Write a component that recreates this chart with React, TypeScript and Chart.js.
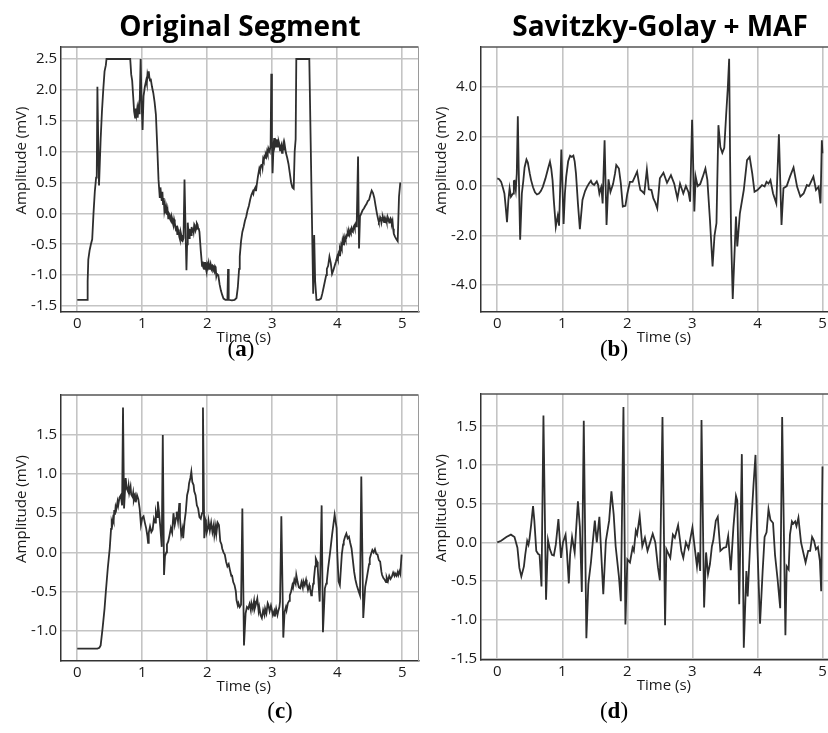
import React, { useEffect, useRef } from 'react';
import { Chart, registerables } from 'chart.js';

Chart.register(...registerables);

// ---------- text ----------
const titleLeft = 'Original Segment';
const titleRight = 'Savitzky-Golay + MAF';
const xLabel = 'Time (s)';
const yLabel = 'Amplitude (mV)';
const panelLetters = ['a', 'b', 'c', 'd'];

// ---------- ticks ----------
const xTicks = [0, 1, 2, 3, 4, 5];
const yTicksA = [-1.5, -1.0, -0.5, 0, 0.5, 1.0, 1.5, 2.0, 2.5];
const yTicksB = [-4, -2, 0, 2, 4];
const yTicksC = [-1.0, -0.5, 0, 0.5, 1.0, 1.5];
const yTicksD = [-1.5, -1.0, -0.5, 0, 0.5, 1.0, 1.5];

// ---------- (a) original segment 1 ----------
const timeA = [0, 0.15, 0.16, 0.17, 0.19, 0.21, 0.23, 0.25, 0.27, 0.29, 0.3, 0.31, 0.325, 0.335, 0.36, 0.38, 0.4, 0.42, 0.44, 0.45, 0.815, 0.83, 0.845, 0.86, 0.875, 0.89, 0.9, 0.91, 0.92, 0.93, 0.94, 0.95, 0.96, 0.975, 0.99, 1.005, 1.02, 1.04, 1.06, 1.07, 1.08, 1.09, 1.1, 1.11, 1.12, 1.13, 1.15, 1.17, 1.19, 1.21, 1.23, 1.25, 1.26, 1.27, 1.28, 1.29, 1.3, 1.31, 1.32, 1.33, 1.34, 1.35, 1.36, 1.37, 1.38, 1.39, 1.4, 1.41, 1.42, 1.43, 1.44, 1.45, 1.46, 1.47, 1.48, 1.49, 1.5, 1.51, 1.52, 1.53, 1.54, 1.55, 1.56, 1.57, 1.58, 1.59, 1.6, 1.61, 1.62, 1.635, 1.65, 1.665, 1.68, 1.69, 1.7, 1.71, 1.72, 1.73, 1.74, 1.75, 1.76, 1.77, 1.78, 1.79, 1.8, 1.81, 1.82, 1.83, 1.84, 1.85, 1.86, 1.87, 1.88, 1.9, 1.92, 1.93, 1.94, 1.95, 1.96, 1.97, 1.98, 1.99, 2.0, 2.01, 2.02, 2.03, 2.04, 2.05, 2.06, 2.07, 2.08, 2.09, 2.1, 2.11, 2.12, 2.13, 2.14, 2.15, 2.17, 2.19, 2.21, 2.23, 2.25, 2.28, 2.31, 2.32, 2.33, 2.38, 2.42, 2.45, 2.47, 2.49, 2.5, 2.52, 2.54, 2.56, 2.58, 2.6, 2.62, 2.64, 2.66, 2.68, 2.7, 2.71, 2.72, 2.73, 2.74, 2.75, 2.76, 2.78, 2.8, 2.81, 2.82, 2.83, 2.84, 2.85, 2.86, 2.87, 2.88, 2.89, 2.9, 2.91, 2.92, 2.93, 2.94, 2.95, 2.96, 2.975, 2.985, 2.995, 3.005, 3.02, 3.03, 3.04, 3.05, 3.06, 3.07, 3.08, 3.09, 3.1, 3.11, 3.12, 3.13, 3.14, 3.15, 3.16, 3.17, 3.18, 3.19, 3.21, 3.23, 3.25, 3.27, 3.29, 3.31, 3.33, 3.345, 3.36, 3.37, 3.57, 3.63, 3.645, 3.66, 3.68, 3.72, 3.75, 3.77, 3.79, 3.81, 3.83, 3.84, 3.86, 3.88, 3.9, 3.92, 3.94, 3.96, 3.98, 4.0, 4.01, 4.02, 4.03, 4.04, 4.05, 4.06, 4.07, 4.08, 4.09, 4.1, 4.11, 4.12, 4.13, 4.14, 4.15, 4.16, 4.17, 4.18, 4.19, 4.2, 4.21, 4.22, 4.23, 4.24, 4.25, 4.26, 4.27, 4.28, 4.29, 4.3, 4.32, 4.335, 4.35, 4.37, 4.39, 4.41, 4.43, 4.45, 4.47, 4.49, 4.51, 4.53, 4.55, 4.57, 4.59, 4.61, 4.63, 4.64, 4.65, 4.66, 4.67, 4.68, 4.69, 4.7, 4.71, 4.72, 4.73, 4.74, 4.75, 4.76, 4.77, 4.78, 4.79, 4.8, 4.81, 4.82, 4.83, 4.84, 4.85, 4.86, 4.87, 4.89, 4.91, 4.93, 4.95, 4.97, 4.98, 5.0];
const ampA = [-1.4, -1.4, -1.1, -0.75, -0.6, -0.5, -0.42, 0.0, 0.35, 0.58, 0.6, 2.05, 1.0, 0.45, 1.2, 1.65, 2.0, 2.3, 2.4, 2.5, 2.5, 2.25, 2.15, 1.9, 1.65, 1.55, 1.7, 1.6, 1.68, 1.55, 1.7, 1.62, 1.75, 2.5, 1.8, 1.35, 1.9, 2.05, 2.15, 2.1, 2.25, 2.2, 2.3, 2.2, 2.15, 2.18, 2.05, 1.95, 1.8, 1.6, 1.1, 0.55, 0.4, 0.25, 0.42, 0.3, 0.2, 0.35, 0.15, 0.25, 0.05, 0.12, 0.0, 0.08, -0.02, 0.05, -0.08, 0.0, -0.02, -0.1, -0.12, -0.04, -0.08, -0.16, -0.2, -0.1, -0.15, -0.22, -0.28, -0.2, -0.35, -0.26, -0.3, -0.38, -0.42, -0.3, -0.35, -0.44, -0.45, -0.4, 0.55, -0.2, -0.92, -0.5, -0.15, -0.3, -0.4, -0.25, -0.32, -0.35, -0.22, -0.3, -0.24, -0.3, -0.18, -0.2, -0.28, -0.25, -0.16, -0.18, -0.24, -0.25, -0.3, -0.6, -0.85, -0.78, -0.88, -0.9, -0.8, -0.8, -0.9, -0.95, -0.82, -0.85, -0.8, -0.9, -0.86, -0.82, -0.9, -0.92, -0.84, -0.85, -0.93, -0.95, -0.86, -0.88, -1.02, -0.98, -1.0, -1.15, -1.25, -1.32, -1.38, -1.4, -1.4, -0.9, -1.4, -1.41, -1.4, -1.37, -1.2, -0.9, -0.7, -0.45, -0.3, -0.22, -0.12, -0.05, 0.05, 0.12, 0.22, 0.3, 0.35, 0.32, 0.38, 0.4, 0.42, 0.36, 0.45, 0.6, 0.72, 0.68, 0.75, 0.78, 0.8, 0.74, 0.88, 0.85, 0.92, 0.9, 0.95, 0.92, 1.0, 0.96, 1.05, 1.02, 1.0, 1.1, 2.26, 1.2, 0.65, 1.1, 1.22, 1.1, 1.15, 1.08, 1.2, 1.12, 1.08, 1.16, 1.12, 1.02, 1.06, 1.1, 0.98, 1.05, 1.12, 1.02, 1.12, 0.98, 0.9, 0.8, 0.65, 0.5, 0.42, 0.4, 1.0, 1.2, 2.5, 2.5, -1.3, -0.35, -1.1, -1.4, -1.4, -1.38, -1.3, -1.2, -1.1, -1.0, -0.9, -0.85, -0.7, -0.8, -0.98, -0.92, -0.85, -0.78, -0.7, -0.74, -0.65, -0.68, -0.58, -0.62, -0.52, -0.56, -0.45, -0.5, -0.42, -0.46, -0.38, -0.42, -0.4, -0.34, -0.32, -0.36, -0.3, -0.34, -0.28, -0.31, -0.25, -0.29, -0.3, -0.22, -0.2, -0.24, -0.18, -0.21, -0.15, 0.92, -0.57, -0.05, 0.0, 0.05, 0.08, 0.12, 0.15, 0.2, 0.22, 0.3, 0.37, 0.33, 0.25, 0.12, 0.0, -0.1, -0.14, -0.12, -0.06, -0.08, -0.15, -0.1, -0.06, -0.1, -0.14, -0.09, -0.12, -0.08, -0.13, -0.12, -0.07, -0.1, -0.15, -0.11, -0.08, -0.1, -0.16, -0.12, -0.25, -0.33, -0.38, -0.42, -0.45, 0.27, 0.5];

// ---------- (b) Savitzky-Golay + MAF 1 ----------
const timeB = [0, 0.03, 0.06, 0.09, 0.11, 0.13, 0.15, 0.17, 0.19, 0.21, 0.23, 0.245, 0.255, 0.265, 0.285, 0.3, 0.316, 0.33, 0.352, 0.378, 0.4, 0.42, 0.449, 0.47, 0.5, 0.52, 0.55, 0.58, 0.61, 0.64, 0.67, 0.7, 0.74, 0.78, 0.81, 0.83, 0.85, 0.87, 0.9, 0.915, 0.93, 0.95, 0.985, 1.02, 1.04, 1.06, 1.09, 1.12, 1.145, 1.17, 1.19, 1.21, 1.24, 1.27, 1.31, 1.35, 1.38, 1.41, 1.44, 1.46, 1.49, 1.51, 1.53, 1.55, 1.57, 1.59, 1.6, 1.62, 1.65, 1.68, 1.71, 1.74, 1.78, 1.81, 1.83, 1.87, 1.9, 1.93, 1.97, 2.0, 2.04, 2.08, 2.12, 2.15, 2.18, 2.2, 2.23, 2.26, 2.3, 2.33, 2.37, 2.4, 2.43, 2.46, 2.5, 2.555, 2.61, 2.67, 2.72, 2.77, 2.81, 2.86, 2.9, 2.94, 2.965, 2.995, 3.03, 3.05, 3.08, 3.12, 3.16, 3.2, 3.23, 3.27, 3.31, 3.34, 3.37, 3.4, 3.43, 3.46, 3.49, 3.52, 3.545, 3.565, 3.58, 3.595, 3.62, 3.67, 3.69, 3.73, 3.79, 3.84, 3.88, 3.92, 3.955, 4.0, 4.04, 4.07, 4.11, 4.14, 4.17, 4.2, 4.24, 4.29, 4.33, 4.37, 4.4, 4.45, 4.5, 4.555, 4.61, 4.66, 4.71, 4.76, 4.79, 4.81, 4.86, 4.9, 4.94, 4.97, 4.99, 5.0];
const ampB = [0.31, 0.28, 0.17, -0.1, -0.3, -0.85, -1.46, -0.6, -0.09, -0.43, -0.35, -0.3, 0.2, 0.21, -0.16, 0.5, 2.82, 0.64, -2.17, -0.3, 0.2, 0.75, 1.07, 0.95, 0.5, 0.24, -0.05, -0.25, -0.34, -0.3, -0.2, -0.03, 0.3, 0.7, 0.98, 0.7, 0.24, -0.6, -1.64, -1.4, -1.2, -1.6, 1.48, -1.53, -0.3, 0.38, 1.0, 1.23, 1.18, 1.23, 1.0, 0.51, -0.7, -1.74, -0.56, -0.2, -0.03, 0.1, 0.21, 0.1, 0.04, 0.12, 0.19, 0.05, -0.3, -0.1, -0.03, -0.7, 1.85, -1.57, 0.27, -0.24, 0.08, 0.5, 0.85, 0.71, 0.1, -0.83, -0.8, -0.3, 0.17, 0.17, 0.4, 0.58, 0.1, -0.16, -0.22, -0.3, 0.67, -0.13, -0.16, -0.5, -0.67, -0.9, 0.31, 0.54, 0.13, 0.44, 0.1, -0.5, 0.1, -0.3, 0.0, -0.25, -0.63, 2.68, -1.03, 0.38, 0.0, 0.08, 0.38, 0.71, 0.25, -1.37, -3.25, -2.0, -1.5, 2.46, 1.58, 1.34, 1.55, 2.93, 4.0, 5.14, 1.0, -2.0, -4.56, -1.23, -2.44, -1.1, -0.16, 1.05, 1.18, 0.51, -0.23, -0.16, -0.05, 0.04, -0.02, 0.17, 0.1, 0.24, -0.3, -0.7, 2.09, -1.57, -0.09, 0.0, 0.38, 0.75, -0.03, -0.43, -0.3, 0.04, 0.0, 0.1, 0.38, -0.16, -0.03, -0.7, 1.85, 1.32];

// ---------- (c) original segment 2 ----------
const timeC = [0, 0.31, 0.34, 0.36, 0.39, 0.42, 0.44, 0.47, 0.5, 0.52, 0.53, 0.54, 0.55, 0.56, 0.57, 0.58, 0.59, 0.6, 0.62, 0.63, 0.65, 0.67, 0.69, 0.704, 0.72, 0.745, 0.76, 0.78, 0.79, 0.8, 0.82, 0.83, 0.85, 0.86, 0.87, 0.89, 0.9, 0.92, 0.94, 0.96, 0.98, 1.0, 1.02, 1.04, 1.06, 1.08, 1.09, 1.1, 1.12, 1.14, 1.16, 1.18, 1.2, 1.21, 1.23, 1.24, 1.26, 1.28, 1.3, 1.316, 1.335, 1.35, 1.37, 1.38, 1.4, 1.42, 1.44, 1.46, 1.48, 1.5, 1.52, 1.53, 1.55, 1.57, 1.58, 1.6, 1.62, 1.63, 1.65, 1.67, 1.69, 1.71, 1.72, 1.74, 1.755, 1.77, 1.79, 1.8, 1.82, 1.84, 1.86, 1.88, 1.9, 1.92, 1.934, 1.954, 1.97, 1.98, 1.99, 2.01, 2.02, 2.04, 2.06, 2.08, 2.1, 2.11, 2.13, 2.14, 2.16, 2.18, 2.2, 2.22, 2.23, 2.25, 2.27, 2.29, 2.31, 2.33, 2.35, 2.37, 2.38, 2.4, 2.42, 2.44, 2.45, 2.47, 2.48, 2.5, 2.52, 2.54, 2.565, 2.59, 2.61, 2.63, 2.65, 2.67, 2.68, 2.7, 2.72, 2.73, 2.75, 2.77, 2.79, 2.8, 2.82, 2.84, 2.86, 2.88, 2.89, 2.91, 2.93, 2.94, 2.96, 2.98, 2.99, 3.01, 3.03, 3.04, 3.06, 3.08, 3.09, 3.11, 3.12, 3.14, 3.17, 3.19, 3.21, 3.22, 3.24, 3.26, 3.27, 3.29, 3.31, 3.32, 3.34, 3.36, 3.37, 3.39, 3.41, 3.43, 3.45, 3.47, 3.48, 3.5, 3.52, 3.53, 3.55, 3.57, 3.58, 3.6, 3.61, 3.63, 3.64, 3.66, 3.67, 3.69, 3.7, 3.72, 3.73, 3.76, 3.78, 3.81, 3.83, 3.84, 3.86, 3.89, 3.92, 3.94, 3.96, 3.99, 4.0, 4.02, 4.04, 4.07, 4.09, 4.1, 4.12, 4.14, 4.16, 4.18, 4.2, 4.22, 4.24, 4.26, 4.28, 4.3, 4.33, 4.35, 4.37, 4.4, 4.43, 4.45, 4.47, 4.49, 4.5, 4.52, 4.54, 4.56, 4.58, 4.6, 4.62, 4.64, 4.66, 4.68, 4.69, 4.71, 4.73, 4.75, 4.76, 4.78, 4.8, 4.82, 4.84, 4.86, 4.88, 4.89, 4.91, 4.93, 4.94, 4.96, 4.97, 4.99];
const ampC = [-1.23, -1.23, -1.22, -1.19, -0.97, -0.72, -0.5, -0.2, 0.05, 0.3, 0.39, 0.36, 0.43, 0.4, 0.54, 0.48, 0.58, 0.55, 0.65, 0.6, 0.7, 0.73, 0.6, 1.85, 0.56, 0.95, 0.82, 0.78, 0.85, 0.76, 0.84, 0.74, 0.71, 0.76, 0.66, 0.72, 0.64, 0.73, 0.68, 0.56, 0.35, 0.44, 0.46, 0.38, 0.31, 0.2, 0.12, 0.25, 0.33, 0.26, 0.29, 0.43, 0.38, 0.52, 0.45, 0.65, 0.5, 0.3, 0.07, 1.5, -0.29, -0.05, 0.0, 0.1, 0.14, 0.22, 0.31, 0.25, 0.5, 0.35, 0.44, 0.52, 0.4, 0.63, 0.45, 0.22, 0.3, 0.18, 0.39, 0.52, 0.73, 0.8, 0.88, 0.95, 1.03, 0.9, 0.86, 0.78, 0.73, 0.6, 0.56, 0.45, 0.43, 0.5, 1.85, 0.18, 0.42, 0.39, 0.25, 0.31, 0.4, 0.28, 0.38, 0.26, 0.35, 0.22, 0.33, 0.24, 0.38, 0.35, 0.14, 0.1, 0.05, 0.0, -0.03, -0.12, -0.18, -0.15, -0.23, -0.3, -0.29, -0.38, -0.42, -0.5, -0.61, -0.68, -0.65, -0.7, -0.67, 0.56, -1.19, -0.78, -0.7, -0.72, -0.66, -0.74, -0.65, -0.72, -0.62, -0.72, -0.66, -0.59, -0.75, -0.7, -0.8, -0.84, -0.74, -0.8, -0.72, -0.78, -0.65, -0.67, -0.75, -0.68, -0.72, -0.8, -0.75, -0.82, -0.72, -0.8, -0.76, -0.7, -0.63, 0.46, -1.09, -0.76, -0.7, -0.74, -0.65, -0.62, -0.55, -0.5, -0.42, -0.45, -0.35, -0.4, -0.29, -0.38, -0.45, -0.46, -0.38, -0.45, -0.37, -0.42, -0.35, -0.4, -0.48, -0.42, -0.46, -0.55, -0.52, -0.4, -0.35, -0.18, -0.08, -0.12, -0.2, -0.5, -0.63, 0.6, -1.02, -0.46, -0.4, -0.37, -0.2, 0.0, 0.22, 0.35, 0.48, 0.31, 0.0, -0.37, -0.42, -0.03, 0.1, 0.14, 0.2, 0.24, 0.18, 0.2, 0.12, 0.05, -0.1, -0.25, -0.35, -0.42, -0.5, -0.55, 0.97, -0.84, -0.44, -0.35, -0.25, -0.15, -0.08, -0.02, 0.03, 0.0, 0.04, -0.02, -0.03, -0.1, -0.12, -0.25, -0.29, -0.33, -0.35, -0.38, -0.32, -0.37, -0.3, -0.34, -0.31, -0.26, -0.3, -0.27, -0.3, -0.25, -0.29, -0.24, -0.27, -0.03];

// ---------- (d) Savitzky-Golay + MAF 2 ----------
const timeD = [0, 0.06, 0.14, 0.21, 0.265, 0.31, 0.34, 0.37, 0.41, 0.43, 0.46, 0.48, 0.495, 0.52, 0.55, 0.57, 0.6, 0.63, 0.65, 0.68, 0.71, 0.75, 0.78, 0.81, 0.84, 0.87, 0.9, 0.94, 0.98, 1.01, 1.05, 1.07, 1.1, 1.12, 1.15, 1.19, 1.24, 1.27, 1.3, 1.33, 1.37, 1.4, 1.44, 1.47, 1.5, 1.53, 1.57, 1.63, 1.67, 1.72, 1.755, 1.79, 1.82, 1.87, 1.9, 1.94, 1.97, 2.0, 2.04, 2.08, 2.1, 2.13, 2.15, 2.19, 2.23, 2.27, 2.31, 2.35, 2.39, 2.43, 2.47, 2.5, 2.54, 2.58, 2.6, 2.66, 2.7, 2.73, 2.78, 2.83, 2.86, 2.9, 2.94, 3.0, 3.03, 3.07, 3.09, 3.12, 3.14, 3.18, 3.21, 3.24, 3.27, 3.3, 3.32, 3.36, 3.39, 3.43, 3.48, 3.52, 3.55, 3.59, 3.63, 3.67, 3.69, 3.72, 3.76, 3.79, 3.83, 3.85, 3.89, 3.94, 3.97, 4.0, 4.04, 4.08, 4.11, 4.14, 4.17, 4.2, 4.24, 4.27, 4.31, 4.35, 4.38, 4.43, 4.45, 4.48, 4.5, 4.53, 4.55, 4.58, 4.6, 4.63, 4.67, 4.71, 4.74, 4.78, 4.81, 4.84, 4.87, 4.9, 4.93, 4.96, 4.98, 5.0];
const ampD = [0, 0.02, 0.07, 0.1, 0.07, -0.07, -0.33, -0.44, -0.31, -0.16, 0.02, -0.03, 0.04, 0.22, 0.47, 0.28, -0.11, -0.15, -0.16, -0.57, 1.64, -0.74, 0.03, -0.09, -0.16, -0.17, -0.03, 0.3, -0.2, 0.0, 0.1, -0.11, -0.53, -0.16, 0.07, -0.13, 0.53, 0.2, -0.64, 1.57, -1.24, -0.54, -0.26, 0.02, 0.28, 0.0, 0.33, -0.67, 0.02, 0.28, 0.66, 0.36, -0.05, -0.44, -0.76, 1.75, -1.06, -0.22, -0.26, -0.07, -0.11, 0.15, 0.1, 0.34, -0.05, 0.06, -0.11, 0.0, 0.11, 0.0, -0.32, -0.49, 1.62, -1.07, -0.09, -0.2, 0.1, 0.06, 0.22, -0.11, -0.2, 0.0, -0.08, 0.19, -0.03, -0.31, -0.13, -0.37, 1.58, -0.84, -0.13, -0.41, -0.28, -0.05, 0.02, 0.28, 0.33, -0.11, -0.07, -0.06, 0.08, -0.36, 0.19, 0.6, 0.54, -0.8, 1.14, -1.36, -0.37, -0.7, 0.02, 0.75, 1.13, -0.07, -1.05, -0.37, 0.07, 0.13, 0.43, 0.29, 0.25, -0.16, -0.48, -0.85, 1.62, -1.2, -0.31, -0.35, 0.1, 0.27, 0.24, 0.27, 0.21, 0.32, 0.0, -0.15, -0.26, -0.11, -0.11, 0.07, 0.02, -0.09, -0.06, -0.24, -0.63, 0.98];

const TEXT = '#1a1a1a';
const SANS = '"Open Sans", "DejaVu Sans", sans-serif';

const framePlugin = {
  id: 'frame',
  afterDraw(chart: any) {
    const { ctx, chartArea: a } = chart;
    ctx.save();
    ctx.strokeStyle = '#555';
    ctx.lineWidth = 1.5;
    ctx.beginPath();
    ctx.moveTo(a.left, a.top);
    ctx.lineTo(a.right, a.top);
    ctx.stroke();
    ctx.strokeStyle = '#9a9a9a';
    ctx.lineWidth = 1;
    ctx.beginPath();
    ctx.moveTo(a.right, a.top);
    ctx.lineTo(a.right, a.bottom);
    ctx.stroke();
    ctx.fillStyle = TEXT;
    ctx.font = '15px ' + SANS;
    ctx.textAlign = 'center';
    ctx.textBaseline = 'middle';
    ctx.fillText(xLabel, (a.left + a.right) / 2 + 4, a.bottom + 26);
    ctx.translate(a.left - 39.5, (a.top + a.bottom) / 2 - 19);
    ctx.rotate(-Math.PI / 2);
    ctx.fillText(yLabel, 0, 0);
    ctx.restore();
  },
};

const zeroPad = (s: any) => {
  s.paddingTop = 0;
  s.paddingBottom = 0;
  s.paddingLeft = 0;
  s.paddingRight = 0;
};

type PanelProps = {
  left: number; top: number; width: number; height: number;
  padTop: number; padRight: number; yAxisW: number; xAxisH: number;
  times: number[]; amps: number[]; yMin: number; yMax: number; yTicks: number[];
};

function Panel(p: PanelProps) {
  const ref = useRef<HTMLCanvasElement>(null);
  useEffect(() => {
    const chart = new Chart(ref.current as HTMLCanvasElement, {
      type: 'line',
      data: {
        datasets: [{
          data: p.times.map((t, i) => ({ x: t, y: p.amps[i] })),
          borderColor: '#2e2e2e',
          borderWidth: 1.8,
          pointRadius: 0,
          tension: 0,
          fill: false,
        }],
      },
      options: {
        animation: false,
        responsive: false,
        events: [],
        layout: { padding: { top: p.padTop, right: p.padRight, left: 0, bottom: 0 } },
        plugins: { legend: { display: false }, tooltip: { enabled: false } },
        scales: {
          x: {
            type: 'linear', min: -0.25, max: 5.25,
            afterBuildTicks: (s: any) => { s.ticks = xTicks.map((v) => ({ value: v })); },
            afterFit: (s: any) => { s.height = p.xAxisH; zeroPad(s); },
            grid: { color: '#c4c4c4', lineWidth: 1.6, drawTicks: false },
            border: { color: '#333', width: 1.5 },
            ticks: {
              font: { family: SANS, size: 15 }, color: TEXT, padding: 3,
              maxRotation: 0, autoSkip: false,
              callback: (v: any) => String(v),
            },
          },
          y: {
            type: 'linear', min: p.yMin, max: p.yMax,
            afterBuildTicks: (s: any) => { s.ticks = p.yTicks.map((v) => ({ value: v })); },
            afterFit: (s: any) => { s.width = p.yAxisW; zeroPad(s); },
            grid: { color: '#c4c4c4', lineWidth: 1.6, drawTicks: false },
            border: { color: '#333', width: 1.5 },
            ticks: {
              font: { family: SANS, size: 15 }, color: TEXT, padding: 4, autoSkip: false,
              callback: (v: any) => Number(v).toFixed(1),
            },
          },
        },
      } as any,
      plugins: [framePlugin],
    });
    return () => chart.destroy();
  }, []);
  return (
    <canvas
      ref={ref}
      width={p.width}
      height={p.height}
      style={{ position: 'absolute', left: p.left, top: p.top, width: p.width, height: p.height }}
    />
  );
}

function Label({ x, y, letter }: { x: number; y: number; letter: string }) {
  return (
    <div style={{ position: 'absolute', left: x, top: y, transform: 'translate(-50%, -50%)', font: '23px "Liberation Serif", serif', color: '#000', whiteSpace: 'nowrap', lineHeight: 1 }}>
      (<b>{letter}</b>)
    </div>
  );
}

function Title({ x, y, text }: { x: number; y: number; text: string }) {
  return (
    <div style={{ position: 'absolute', left: x, top: y, transform: 'translate(-50%, -50%)', font: 'bold 28px "Open Sans", sans-serif', color: '#000', whiteSpace: 'nowrap', lineHeight: 1 }}>
      {text}
    </div>
  );
}

export default function App() {
  return (
    <div style={{ position: 'absolute', left: 0, top: 0, width: 828, height: 733, overflow: 'hidden', background: '#fff' }}>
      <Panel left={0} top={40} width={420} height={310} padTop={7} padRight={1.5} yAxisW={61} xAxisH={38}
        times={timeA} amps={ampA} yMin={-1.597} yMax={2.694} yTicks={yTicksA} />
      <Panel left={414} top={40} width={430} height={310} padTop={7} padRight={5.25} yAxisW={67} xAxisH={38}
        times={timeB} amps={ampB} yMin={-5.09} yMax={5.62} yTicks={yTicksB} />
      <Panel left={0} top={388} width={420} height={311} padTop={7} padRight={1.5} yAxisW={61} xAxisH={38}
        times={timeC} amps={ampC} yMin={-1.389} yMax={2.011} yTicks={yTicksC} />
      <Panel left={414} top={387} width={430} height={311} padTop={7} padRight={5.25} yAxisW={67} xAxisH={38}
        times={timeD} amps={ampD} yMin={-1.52} yMax={1.917} yTicks={yTicksD} />
      <Title x={240} y={25} text={titleLeft} />
      <Title x={660} y={25} text={titleRight} />
      <Label x={241} y={348} letter={panelLetters[0]} />
      <Label x={614} y={348} letter={panelLetters[1]} />
      <Label x={280} y={710} letter={panelLetters[2]} />
      <Label x={614} y={710} letter={panelLetters[3]} />
    </div>
  );
}
